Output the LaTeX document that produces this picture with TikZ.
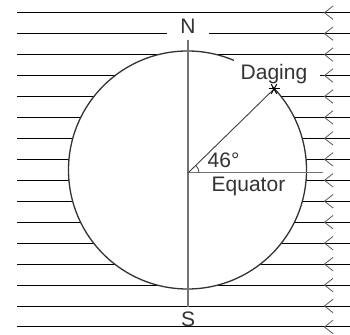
\documentclass[tikz,border=0pt]{standalone}
\usepackage{fontspec}
\setmainfont{Liberation Sans}
\begin{document}
\begin{tikzpicture}[x=1pt,y=1pt,
  ray/.style={black,line width=0.9pt},
  earth/.style={draw=black!80,line width=1.3pt,fill=white},
  axisline/.style={black!55,line width=1.1pt},
  tickhead/.style={black!65,line width=0.8pt},
  lbl/.style={inner sep=0pt,text=black!80,font=\fontsize{21}{21}\selectfont}]
\useasboundingbox (0,0) rectangle (350,334);
% sun rays
\foreach \k in {0,...,15}{
  \pgfmathsetmacro{\yy}{321.3-20.95*\k}
  \draw[ray] (17,\yy) -- (350,\yy);
}
% earth
\coordinate (C) at (187.5,164);
\draw[earth] (C) circle[radius=119];
% arrowheads
\foreach \k in {0,...,15}{
  \pgfmathsetmacro{\yy}{321.3-20.95*\k}
  \draw[tickhead] (333,\yy+6.7) -- (324.5,\yy) -- (333,\yy-6.7);
}
% axis, equator, radius
\coordinate (O) at (188,161);
\coordinate (Np) at (188,294);
\coordinate (Sp) at (188,27.3);
\coordinate (Eq) at (323,161);
\coordinate (D) at (274,245);
\draw[axisline] (Np) -- (Sp);
\draw[axisline,line width=1pt] (O) -- (Eq);
\draw[black!75,line width=0.9pt] (O) -- (D);
\draw[black!75,line width=0.8pt] (O) ++(11,0) arc[start angle=0,end angle=44.3,radius=11];
% Daging label box
\fill[white] (234,246.5) rectangle (320,276);
\node[lbl,anchor=base] (daging) at (274,254) {Daging};
% star
\draw[black,line width=1pt] (D) ++(-5.5,0) -- ++(11,0);
\draw[black,line width=1pt] (D) ++(60:5.5) -- ++(240:11);
\draw[black,line width=1pt] (D) ++(120:5.5) -- ++(300:11);
% labels
\node[lbl,anchor=base,fill=white,inner xsep=13.5pt,inner ysep=1.5pt] (north) at (188,300) {N};
\node[lbl,anchor=base] (south) at (188,7.3) {S};
\node[lbl,anchor=base west] (ang) at (207.5,166) {46°};
\node[lbl,anchor=base west] (equ) at (211.5,142.3) {Equator};
\end{tikzpicture}
\end{document}
